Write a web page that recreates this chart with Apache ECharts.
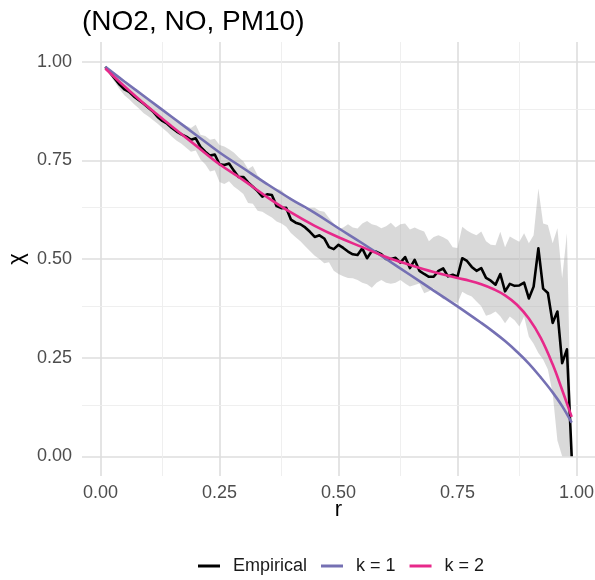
<!DOCTYPE html>
<html>
<head>
<meta charset="utf-8">
<script src="https://cdn.jsdelivr.net/npm/echarts@6/dist/echarts.min.js"></script>
<style>html,body{margin:0;padding:0;background:#fff}#c{width:595px;height:580px}</style>
</head>
<body>
<div id="c"></div>
<script>
// ---- data ----
const rGrid = [0.01,0.02,0.03,0.04,0.05,0.06,0.07,0.08,0.09,0.10,
  0.11,0.12,0.13,0.14,0.15,0.16,0.17,0.18,0.19,0.20,
  0.21,0.22,0.23,0.24,0.25,0.26,0.27,0.28,0.29,0.30,
  0.31,0.32,0.33,0.34,0.35,0.36,0.37,0.38,0.39,0.40,
  0.41,0.42,0.43,0.44,0.45,0.46,0.47,0.48,0.49,0.50,
  0.51,0.52,0.53,0.54,0.55,0.56,0.57,0.58,0.59,0.60,
  0.61,0.62,0.63,0.64,0.65,0.66,0.67,0.68,0.69,0.70,
  0.71,0.72,0.73,0.74,0.75,0.76,0.77,0.78,0.79,0.80,
  0.81,0.82,0.83,0.84,0.85,0.86,0.87,0.88,0.89,0.90,
  0.91,0.92,0.93,0.94,0.95,0.96,0.97,0.98,0.99];

const empirical = [0.987,0.972,0.957,0.942,0.930,0.924,0.912,0.903,0.894,0.884,
  0.874,0.860,0.850,0.843,0.832,0.823,0.816,0.810,0.802,0.806,
  0.784,0.772,0.762,0.765,0.740,0.738,0.742,0.724,0.708,0.708,
  0.694,0.683,0.672,0.658,0.664,0.662,0.634,0.629,0.630,0.600,
  0.592,0.588,0.580,0.569,0.556,0.560,0.552,0.530,0.525,0.536,
  0.528,0.519,0.512,0.510,0.527,0.502,0.520,0.518,0.512,0.500,
  0.500,0.503,0.491,0.505,0.477,0.498,0.470,0.462,0.455,0.455,
  0.470,0.476,0.456,0.460,0.455,0.502,0.495,0.480,0.470,0.477,
  0.452,0.445,0.435,0.462,0.418,0.437,0.432,0.433,0.440,0.400,
  0.430,0.527,0.425,0.414,0.338,0.367,0.236,0.271,0.000];

const ribbonUpper = [0.990,0.978,0.966,0.955,0.945,0.937,0.928,0.918,0.910,0.902,
  0.893,0.885,0.878,0.868,0.860,0.850,0.845,0.838,0.832,0.840,
  0.815,0.812,0.802,0.805,0.789,0.785,0.778,0.770,0.758,0.748,
  0.728,0.736,0.712,0.700,0.692,0.682,0.678,0.675,0.660,0.655,
  0.643,0.636,0.625,0.630,0.630,0.622,0.620,0.604,0.590,0.576,
  0.580,0.588,0.580,0.577,0.590,0.596,0.588,0.585,0.578,0.583,
  0.592,0.580,0.588,0.590,0.575,0.580,0.574,0.570,0.545,0.556,
  0.560,0.555,0.548,0.530,0.528,0.582,0.572,0.565,0.560,0.570,
  0.545,0.536,0.535,0.569,0.530,0.557,0.550,0.544,0.565,0.540,
  0.560,0.679,0.590,0.586,0.540,0.578,0.451,0.565,0.000];

const ribbonLower = [0.984,0.965,0.948,0.930,0.915,0.905,0.893,0.882,0.870,0.862,
  0.852,0.843,0.832,0.822,0.810,0.800,0.792,0.782,0.772,0.775,
  0.752,0.740,0.722,0.725,0.695,0.690,0.697,0.684,0.675,0.665,
  0.642,0.640,0.622,0.620,0.612,0.605,0.595,0.590,0.582,0.566,
  0.555,0.545,0.532,0.520,0.508,0.500,0.489,0.492,0.470,0.462,
  0.456,0.452,0.451,0.447,0.440,0.436,0.427,0.440,0.447,0.440,
  0.437,0.440,0.447,0.438,0.430,0.434,0.438,0.413,0.418,0.426,
  0.410,0.398,0.400,0.392,0.388,0.417,0.410,0.405,0.392,0.380,
  0.356,0.360,0.367,0.355,0.337,0.354,0.345,0.329,0.354,0.303,
  0.285,0.262,0.245,0.220,0.160,0.040,0.000,0.000,0.000];

const k1R   = [0.01,0.05,0.10,0.15,0.20,0.25,0.30,0.35,0.40,0.45,0.50,0.55,0.60,0.65,0.70,0.75,0.80,0.825,0.85,0.875,0.90,0.925,0.95,0.97,0.99];
const k1Chi = [0.987,0.950,0.905,0.860,0.815,0.770,0.730,0.690,0.652,0.617,0.578,0.540,0.500,0.460,0.420,0.380,0.338,0.316,0.292,0.265,0.235,0.200,0.162,0.127,0.085];

const k2R   = [0.01,0.05,0.10,0.15,0.20,0.25,0.30,0.35,0.40,0.45,0.50,0.55,0.60,0.65,0.70,0.75,0.775,0.80,0.825,0.85,0.875,0.90,0.925,0.95,0.97,0.99];
const k2Chi = [0.983,0.938,0.885,0.836,0.788,0.740,0.700,0.657,0.618,0.584,0.555,0.530,0.505,0.485,0.467,0.452,0.445,0.436,0.424,0.408,0.384,0.349,0.300,0.233,0.168,0.100];

const tickValues = [0, 0.25, 0.5, 0.75, 1];
const minorValues = [0.125, 0.375, 0.625, 0.875];
const legendNames = ['Empirical', 'k = 1', 'k = 2'];
const titleText = '(NO2, NO, PM10)';

// ---- chart ----
const FONT = "'Liberation Sans', Arial, Helvetica, sans-serif";
const MAJOR = {color: '#DEDEDE', width: 1.6, type: 'solid'};
const MINOR = {color: '#EDEDED', width: 0.9, type: 'solid'};

const gridLines = [];
tickValues.forEach(v => { gridLines.push({xAxis: v, lineStyle: MAJOR}); gridLines.push({yAxis: v, lineStyle: MAJOR}); });
minorValues.forEach(v => { gridLines.push({xAxis: v, lineStyle: MINOR}); gridLines.push({yAxis: v, lineStyle: MINOR}); });

const ribbonData = rGrid.map((r, i) => [r, ribbonLower[i], ribbonUpper[i]]);

const chart = echarts.init(document.getElementById('c'), null, {renderer: 'canvas'});
chart.setOption({
  animation: false,
  backgroundColor: '#ffffff',
  textStyle: {fontFamily: FONT},
  title: {
    text: titleText, left: 82, top: 8, padding: 0,
    textStyle: {fontFamily: FONT, fontSize: 28, fontWeight: 'normal', color: '#000000'}
  },
  legend: {
    data: legendNames, left: 198, top: 557, padding: 0,
    icon: 'rect', itemWidth: 22, itemHeight: 3, itemGap: 14,
    textStyle: {fontFamily: FONT, fontSize: 18, color: '#1A1A1A', padding: [0, 0, 0, 8]}
  },
  grid: {left: 82, right: 0, top: 42, bottom: 104, containLabel: false, outerBoundsMode: 'none'},
  xAxis: {
    type: 'value', min: -0.039, max: 1.039,
    name: 'r', nameLocation: 'middle', nameGap: 23, nameMoveOverlap: false,
    nameTextStyle: {fontFamily: FONT, fontSize: 22, color: '#000000'},
    axisLine: {show: false}, axisTick: {show: false}, splitLine: {show: false},
    axisLabel: {customValues: tickValues, margin: 8, fontSize: 18, color: '#4D4D4D', fontFamily: FONT,
      formatter: v => v.toFixed(2)}
  },
  yAxis: {
    type: 'value', min: -0.05, max: 1.05,
    name: 'χ', nameLocation: 'middle', nameGap: 54, nameRotate: 90, nameMoveOverlap: false,
    nameTextStyle: {fontFamily: FONT, fontSize: 22, color: '#000000'},
    axisLine: {show: false}, axisTick: {show: false}, splitLine: {show: false},
    axisLabel: {customValues: tickValues, margin: 10, fontSize: 18, color: '#4D4D4D', fontFamily: FONT,
      formatter: v => v.toFixed(2)}
  },
  series: [
    {
      type: 'custom', name: 'ribbon', z: 2, silent: true,
      data: ribbonData,
      encode: {x: 0, y: [1, 2]},
      renderItem: function (params, api) {
        if (params.dataIndex !== 0) return null;
        const pts = [];
        for (let i = 0; i < ribbonData.length; i++) pts.push(api.coord([ribbonData[i][0], ribbonData[i][2]]));
        for (let i = ribbonData.length - 1; i >= 0; i--) pts.push(api.coord([ribbonData[i][0], ribbonData[i][1]]));
        return {type: 'polygon', shape: {points: pts}, style: {fill: 'rgba(170,170,170,0.45)', stroke: null}};
      }
    },
    {
      type: 'line', name: 'Empirical', z: 3,
      data: rGrid.map((r, i) => [r, empirical[i]]),
      symbol: 'none', smooth: false,
      lineStyle: {color: '#000000', width: 2.6, join: 'round'},
      itemStyle: {color: '#000000'},
      markLine: {
        silent: true, z: 1, symbol: ['none', 'none'], label: {show: false},
        animation: false, emphasis: {disabled: true},
        data: gridLines
      }
    },
    {
      type: 'line', name: 'k = 1', z: 4,
      data: k1R.map((r, i) => [r, k1Chi[i]]),
      symbol: 'none', smooth: 0.4,
      lineStyle: {color: '#7570B3', width: 2.6},
      itemStyle: {color: '#7570B3'}
    },
    {
      type: 'line', name: 'k = 2', z: 5,
      data: k2R.map((r, i) => [r, k2Chi[i]]),
      symbol: 'none', smooth: 0.4,
      lineStyle: {color: '#E7298A', width: 2.6},
      itemStyle: {color: '#E7298A'}
    }
  ]
});
</script>
</body>
</html>
